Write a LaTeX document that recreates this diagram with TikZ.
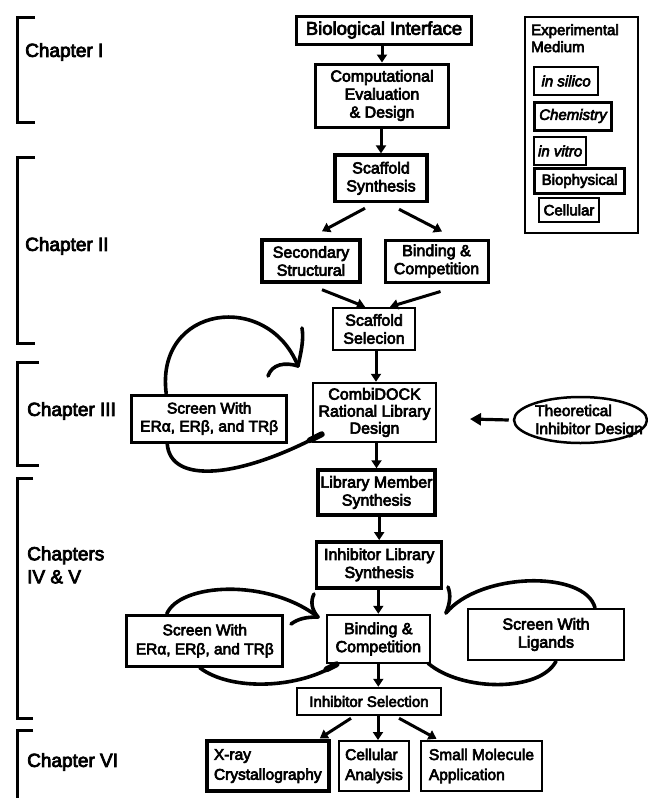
\documentclass[tikz,border=0pt]{standalone}
\usepackage{fontspec}
\setmainfont{Liberation Sans}
\newfontfamily\hv[FakeBold=4]{Liberation Sans}
\usetikzlibrary{shapes.geometric,arrows.meta}
\begin{document}
\begin{tikzpicture}[x=1pt,y=-1pt,
  bx/.style={draw, rectangle, line width=3pt, align=center, inner sep=0pt,
    font=\hv\fontsize{16}{18}\selectfont},
  bxm/.style={bx, line width=2.5pt},
  arr/.style={line width=3pt, -{Triangle[length=8pt,width=10pt]}},
  hand/.style={line width=3.6pt, line cap=round},
  blob/.style={line width=6pt, line cap=round},
  brk/.style={line width=3pt},
  chap/.style={anchor=west, align=left, inner sep=0pt, font=\hv\fontsize{19}{23}\selectfont},
  leg/.style={draw, line width=2.3pt, inner sep=0pt, anchor=west, font=\hv\fontsize{15}{17}\selectfont}
]
\path[use as bounding box, fill=white] (0,0) rectangle (648,798);

% chapter brackets and labels
\draw[brk] (35,17) -- (17,17) -- (17,122) -- (35,122);
\draw[brk] (35,157) -- (17,157) -- (17,343) -- (35,343);
\draw[brk] (39,362) -- (17,362) -- (17,465) -- (39,465);
\draw[brk] (33,478) -- (17,478) -- (17,718) -- (33,718);
\draw[brk] (33,730) -- (17,730) -- (17,800);
\node[chap] (c1) at (25,52) {Chapter I};
\node[chap] (c2) at (25,246) {Chapter II};
\node[chap] (c3) at (27,411) {Chapter III};
\node[chap] (c45) at (27,565) {Chapters\\IV \& V};
\node[chap] (c6) at (27,762) {Chapter VI};

% legend
\node[draw, line width=2.3pt, minimum width=113pt, minimum height=216pt, anchor=north west, inner sep=0pt] (legend) at (524,16) {};
\node[anchor=north west, align=left, inner sep=0pt, font=\hv\fontsize{15}{17}\selectfont] (legt) at (531,24) {Experimental\\Medium};
\node[leg, minimum width=64pt, minimum height=28pt] (insil) at (533,81) {\itshape in silico};
\node[leg, line width=3pt, minimum width=77pt, minimum height=28pt] (chem) at (533,116) {\itshape Chemistry};
\node[leg, minimum width=52pt, minimum height=28pt] (invit) at (533,151) {\itshape in vitro};
\node[leg, line width=3.3pt, minimum width=90pt, minimum height=25pt] (bioph) at (533,181) {Biophysical};
\node[leg, line width=2pt, minimum width=60pt, minimum height=24pt] (cellu) at (538,210) {Cellular};

% main nodes
\node[bx, minimum width=175pt, minimum height=28pt, font=\hv\fontsize{18.5}{20}\selectfont] (bio) at (384,30) {Biological Interface};
\node[bx, minimum width=133pt, minimum height=63pt] (comp) at (382,95.5) {Computational\\Evaluation\\\& Design};
\node[bx, line width=3.4pt, minimum width=92pt, minimum height=46.5pt] (ssyn) at (381,178.3) {Scaffold\\Synthesis};
\node[bx, line width=3.4pt, minimum width=98pt, minimum height=42pt] (sec) at (311,261) {Secondary\\Structural};
\node[bx, minimum width=103pt, minimum height=42pt] (bind1) at (436.5,261) {Binding \&\\Competition};
\node[bxm, minimum width=82pt, minimum height=42pt] (ssel) at (374,329) {Scaffold\\Selecion};
\node[bxm, minimum width=123pt, minimum height=59pt, font=\hv\fontsize{16}{17}\selectfont] (combi) at (374.5,412.5) {CombiDOCK\\Rational Library\\Design};
\node[bx, minimum width=155pt, minimum height=47pt, font=\hv\fontsize{15.5}{18}\selectfont] (scr3) at (209.2,418.5) {Screen With\\ERα, ERβ, and TRβ};
\node[draw, ellipse, line width=2.5pt, minimum width=133pt, minimum height=46pt, inner sep=0pt] (theo) at (580.5,420) {};
\node[align=left, inner sep=0pt, font=\hv\fontsize{15.5}{18}\selectfont] (theot) at (589,421) {Theoretical\\Inhibitor Design};
\node[bx, line width=3.4pt, minimum width=117pt, minimum height=45pt] (libm) at (376.5,492.5) {Library Member\\Synthesis};
\node[bx, line width=3.4pt, minimum width=125pt, minimum height=46pt] (inhl) at (379.2,564.8) {Inhibitor Library\\Synthesis};
\node[bxm, minimum width=103pt, minimum height=48pt] (bind2) at (378.3,639) {Binding \&\\Competition};
\node[bx, minimum width=156pt, minimum height=51pt, font=\hv\fontsize{15.5}{19}\selectfont] (scr4) at (204.8,640.8) {Screen With\\ERα, ERβ, and TRβ};
\node[bxm, minimum width=156pt, minimum height=51pt] (lig) at (546,634.5) {Screen With\\Ligands};
\node[bxm, minimum width=144pt, minimum height=27pt, font=\hv\fontsize{15}{17}\selectfont] (isel) at (369,701.5) {Inhibitor Selection};
\node[bx, line width=3.4pt, minimum width=122pt, minimum height=50pt, align=left, font=\hv\fontsize{15.5}{20}\selectfont] (xray) at (267.8,766) {X-ray\\Crystallography};
\node[bx, line width=2pt, minimum width=70pt, minimum height=50pt, align=left, font=\hv\fontsize{15.5}{20}\selectfont] (cell) at (374,766) {Cellular\\Analysis};
\node[bxm, minimum width=121pt, minimum height=50pt, align=left, font=\hv\fontsize{15.5}{20}\selectfont] (small) at (481.5,766) {Small Molecule\\Application};

% straight arrows
\draw[arr] (bio.south -| comp.north) -- (comp.north);
\draw[arr] (comp.south -| ssyn.north) -- (ssyn.north);
\draw[arr] ([xshift=-16pt,yshift=-5pt]ssyn.south) -- ([xshift=11pt,yshift=7pt]sec.north);
\draw[arr] ([xshift=18pt,yshift=-6pt]ssyn.south) -- ([xshift=5.5pt,yshift=7pt]bind1.north);
\draw[arr] ([xshift=11pt,yshift=-6pt]sec.south) -- ([xshift=-9pt]ssel.north);
\draw[arr] ([xshift=4pt,yshift=-8pt]bind1.south) -- ([xshift=16pt]ssel.north);
\draw[arr] ([xshift=2pt]ssel.south) -- ([xshift=1.5pt]combi.north);
\coordinate (theotip) at (470,419);
\draw[line width=3.2pt, -{Triangle[length=11pt,width=12pt]}] ([xshift=-4pt]theo.west) -- (theotip);
\draw[arr] (combi.south -| libm.north) -- (libm.north);
\draw[arr] (libm.south -| inhl.north) -- (inhl.north);
\draw[arr] (inhl.south -| bind2.north) -- (bind2.north);
\draw[arr] (bind2.south) -- (bind2.south |- isel.north);
\draw[arr] ([xshift=-18pt,yshift=-2pt]isel.south) -- ([xshift=52pt,yshift=1pt]xray.north);
\draw[arr] ([xshift=9pt]isel.south) -- ([xshift=4pt]cell.north);
\draw[arr] ([xshift=30pt,yshift=-2pt]isel.south) -- ([xshift=-45pt,yshift=1pt]small.north);

% hand-drawn loops, chapter III
\coordinate (t3) at (298,366);
\draw[hand] ([xshift=-43pt]scr3.north) .. controls (155,305) and (268,290) .. (t3);
\draw[hand] (t3) .. controls (301,352) and (304,340) .. (302,328);
\draw[hand] (t3) .. controls (285,362) and (272,364) .. (268,376);
\draw[hand] ([xshift=10pt,yshift=9pt]combi.south west) .. controls (240,478) and (170,485) .. ([xshift=37pt]scr3.south west);
\draw[blob] ([xshift=10pt,yshift=9pt]combi.south west) -- ++(-12,6);

% hand-drawn loops, chapters IV & V
\coordinate (t4) at (318,617);
\draw[hand] ([xshift=-38pt]scr4.north) .. controls (180,583) and (268,578) .. (t4);
\draw[hand] (t4) .. controls (312,610) and (310,602) .. (314,594);
\draw[hand] (t4) .. controls (305,617) and (298,619) .. (291,624);
\draw[hand] ([xshift=-5pt]scr4.south) .. controls (232,692) and (300,688) .. ([xshift=11pt]bind2.south west);
\draw[blob] ([xshift=11pt]bind2.south west) -- ++(-10,5);

\coordinate (tr) at (446,613);
\draw[hand] ([xshift=49pt]lig.north) .. controls (585,570) and (480,572) .. (tr);
\draw[hand] (tr) .. controls (450,603) and (451,595) .. (448,587);
\draw[hand] ([xshift=-3pt,yshift=1pt]bind2.south east) .. controls (462,692) and (540,692) .. ([xshift=10pt]lig.south);
\end{tikzpicture}
\end{document}
